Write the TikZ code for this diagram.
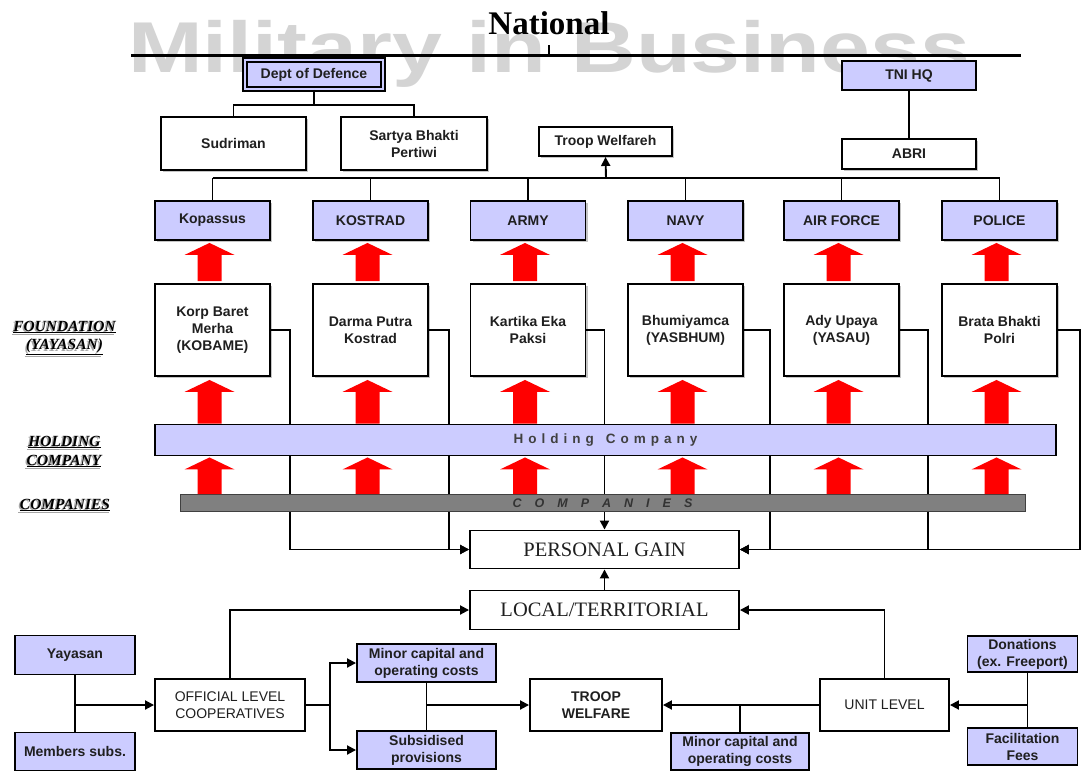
\documentclass[tikz,border=0pt]{standalone}
\usepackage{fontspec}
\setmainfont{Liberation Serif}
\setsansfont{Liberation Sans}
\usetikzlibrary{arrows.meta,calc,shadows}
\definecolor{lav}{HTML}{CCCCFF}
\definecolor{wm}{HTML}{D4D4D4}
\definecolor{barg}{HTML}{808080}
\def\lsp#1#2{\def\lspk{\kern#1}\lspB#2\relax}
\def\lspB#1{#1\lspA}
\def\lspA#1{\ifx#1\relax\else\lspk#1\expandafter\lspA\fi}
\newcommand\redup[2]{%
  \fill[red] let \p1=(#1), \p2=(#2) in
    (\x1-12pt,\y1) -- (\x1-12pt,\y2-12pt) -- (\x1-25pt,\y2-12pt) -- (\x1,\y2)
    -- (\x1+25pt,\y2-12pt) -- (\x1+12pt,\y2-12pt) -- (\x1+12pt,\y1) -- cycle;}
\tikzset{
  box/.style={draw=black, line width=1.9pt, fill=white, inner sep=0pt, align=center,
    font=\sffamily\bfseries\fontsize{14}{17}\selectfont, text=black!88},
  rbox/.style={box, font=\sffamily\fontsize{14}{17}\selectfont},
  lbox/.style={box, fill=lav},
  shad/.style={drop shadow={shadow xshift=2pt, shadow yshift=-2pt, fill=black!45, opacity=0.5}},
  conn/.style={line width=1.9pt},
  arr/.style={conn, -{Triangle[length=9pt,width=9pt]}},
  sidelab/.style={inner sep=0pt, font=\rmfamily\bfseries\itshape\fontsize{15.5}{18}\selectfont},
}
\begin{document}
\begin{tikzpicture}[x=1pt,y=-1pt]
\useasboundingbox (0,0) rectangle (1082,772);
\fill[white] (0,0) rectangle (1082,772);
% watermark
\node[anchor=base west, inner sep=0pt, text=wm, font=\sffamily\bfseries\fontsize{72}{72}\selectfont]
  (wmark) at (128,72) {\scalebox{1.245}[1]{Military in Business}};
% title and top line
\node[anchor=base, inner sep=0pt, font=\rmfamily\bfseries\fontsize{33}{36}\selectfont] (nat) at (549,34) {National};
\coordinate (tlL) at (131,55);
\coordinate (tlR) at (1021,55);
\coordinate (tick) at (549,45);
\draw[line width=3pt] (tlL) -- (tlR);
\draw[conn] (tick) -- (tick |- tlL);
% top boxes
\node[box, fill=lav, double=lav, double distance=2pt, line width=1.6pt, minimum width=138, minimum height=29] (dod) at (314,74.5) {Dept of Defence};
\node[lbox, minimum width=134, minimum height=29] (tni) at (909,75.5) {TNI HQ};
\node[box, shad, minimum width=145, minimum height=53] (sud) at (233.5,143.5) {Sudriman};
\node[box, shad, minimum width=146, minimum height=53] (sar) at (414,143.5) {Sartya Bhakti\\Pertiwi};
\node[box, shad, minimum width=133, minimum height=29] (tw) at (605.5,141.5) {Troop Welfareh};
\node[box, shad, minimum width=134, minimum height=30] (abri) at (909,154) {ABRI};
\coordinate (dj) at (314,105);
\draw[conn] (dod.south) -- (dj);
\draw[conn] (sud.north) |- (dj) -| (sar.north);
\draw[conn] (tni.south) -- (abri.north);
% services
\foreach \i/\x/\t in {1/212.5/Kopassus, 2/370.5/KOSTRAD, 3/528/ARMY, 4/685.5/NAVY, 5/841.5/AIR FORCE, 6/999.5/POLICE}
  \node[lbox, shad, minimum width=115, minimum height=39] (s\i) at (\x,220.5) {\t};
% foundations
\node[box, shad, minimum width=115, minimum height=92] (f1) at (212.5,330) {Korp Baret\\Merha\\(KOBAME)};
\node[box, shad, minimum width=115, minimum height=92] (f2) at (370.5,330) {Darma Putra\\Kostrad};
\node[box, shad, minimum width=115, minimum height=92] (f3) at (528,330) {Kartika Eka\\Paksi};
\node[box, shad, minimum width=115, minimum height=92] (f4) at (685.5,330) {Bhumiyamca\\(YASBHUM)};
\node[box, shad, minimum width=115, minimum height=92] (f5) at (841.5,330) {Ady Upaya\\(YASAU)};
\node[box, shad, minimum width=115, minimum height=92] (f6) at (999.5,330) {Brata Bhakti\\Polri};
% bus
\coordinate (bus) at (606,178);
\draw[line width=2.8pt] (s1.north |- bus) -- (s6.north |- bus);
\foreach \i in {1,...,6} \draw[conn] (s\i.north) -- (s\i.north |- bus);
\draw[arr] (bus) -- (tw.south);
% personal gain and local
\node[box, font=\rmfamily\fontsize{20.5}{24}\selectfont, minimum width=269, minimum height=38] (pg) at (604.5,549.5) {PERSONAL GAIN};
\node[box, font=\rmfamily\fontsize{20.5}{24}\selectfont, minimum width=269, minimum height=39] (local) at (604.5,610) {LOCAL/TERRITORIAL};
% foundation connectors
\draw[arr] (f1.east) -- ++(19,0) |- (pg.west);
\draw[arr] (f2.east) -- ++(20,0) |- (pg.west);
\draw[arr] (f3.east) -| (pg.north);
\draw[arr] (f4.east) -- ++(26,0) |- (pg.east);
\draw[arr] (f5.east) -- ++(28,0) |- (pg.east);
\draw[arr] (f6.east) -- ++(22,0) |- (pg.east);
% bars
\node[draw=black, line width=1.9pt, fill=lav, inner sep=0pt, minimum width=901, minimum height=31,
  font=\sffamily\bfseries\fontsize{13.5}{15}\selectfont, text=black!75] (hold) at (605.5,440)
  {\lsp{5pt}{Holding}\kern12pt\lsp{5pt}{Company}};
\node[draw=black!75, line width=1pt, fill=barg, inner sep=0pt, minimum width=845, minimum height=17,
  font=\sffamily\bfseries\itshape\fontsize{12.5}{14}\selectfont, text=black!80] (comp) at (602.5,503)
  {\lsp{13pt}{COMPANIES}};
% red arrows
\foreach \i in {1,...,6} {
  \redup{$(f\i.north)+(-3,-2)$}{$(s\i.south)+(-3,2)$}
  \redup{$(hold.north -| f\i)+(-3,0)$}{$(f\i.south)+(-3,3)$}
  \redup{$(comp.north -| f\i)+(-3,0)$}{$(hold.south -| f\i)+(-3,1)$}
}
% side labels
\foreach \n/\x/\y/\t in {la/64.5/327/FOUNDATION, lb/64.5/347/(YAYASAN), lc/64.5/442/HOLDING, ld/64/461/COMPANY, le/65/505/COMPANIES} {
  \node[sidelab, text=black!35] (\n s) at (\x-1.5,\y+1.5) {\underline{\t}};
  \node[sidelab] (\n) at (\x,\y) {\underline{\t}};
}
% bottom section
\node[lbox, minimum width=120, minimum height=39] (yay) at (75,655) {Yayasan};
\node[lbox, minimum width=120, minimum height=38] (mem) at (75,751.5) {Members subs.};
\node[rbox, minimum width=150, minimum height=52] (off) at (230,705) {OFFICIAL LEVEL\\COOPERATIVES};
\node[lbox, minimum width=139, minimum height=38] (min1) at (426.5,663) {Minor capital and\\operating costs};
\node[lbox, minimum width=139, minimum height=38] (sub) at (426.5,750) {Subsidised\\provisions};
\node[box, minimum width=132, minimum height=52] (tw2) at (596,705) {TROOP\\WELFARE};
\node[rbox, minimum width=129, minimum height=52] (unit) at (884.5,705) {UNIT LEVEL};
\node[lbox, minimum width=138, minimum height=37] (min2) at (740,751.5) {Minor capital and\\operating costs};
\node[lbox, minimum width=110, minimum height=36] (don) at (1022.5,654) {Donations\\(ex. Freeport)};
\node[lbox, minimum width=110, minimum height=37] (fac) at (1022.5,746.5) {Facilitation\\Fees};
\draw[arr] (local.north) -- (pg.south);
\draw[conn] (yay.south) -- (mem.north);
\draw[arr] (yay.south |- off.west) -- (off.west);
\draw[arr] (off.north) |- (local.west);
\draw[arr] (off.east) -- ++(24,0) |- (min1.west);
\draw[arr] (off.east) -- ++(24,0) |- (sub.west);
\draw[conn] (min1.south) -- (sub.north);
\draw[arr] (min1.south |- tw2.west) -- (tw2.west);
\draw[arr] (unit.north) |- (local.east);
\draw[arr] (unit.west) -- (tw2.east);
\draw[conn] (min2.north) -- (min2.north |- unit.west);
\coordinate (dj2) at ([xshift=5pt]don.south);
\draw[conn] (dj2) -- (dj2 |- fac.north);
\draw[arr] (dj2 |- unit.east) -- (unit.east);
\end{tikzpicture}
\end{document}
